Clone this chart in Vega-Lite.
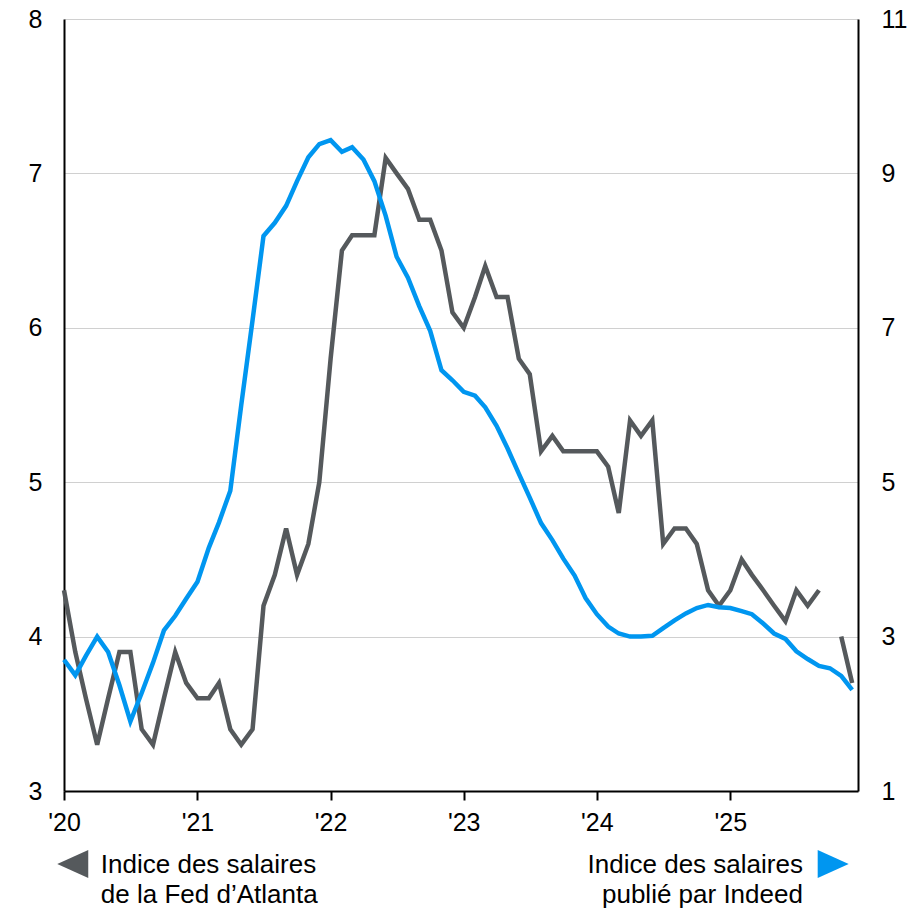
{
  "$schema": "https://vega.github.io/schema/vega-lite/v6.json",
  "width": 794,
  "height": 772,
  "autosize": {"type": "none"},
  "padding": {"left": 64, "top": 19, "right": 62, "bottom": 118},
  "background": "white",
  "config": {
    "font": "Liberation Sans",
    "view": {"stroke": null},
    "axis": {"labelFont": "Liberation Sans", "labelFontSize": 25, "labelColor": "black", "domainColor": "black", "domainWidth": 2, "tickColor": "black", "tickWidth": 2, "title": null}
  },
  "datasets": {
    "wages": [
      {"date": "2020-01-01", "atlanta": 4.3, "indeed": 2.7},
      {"date": "2020-02-01", "atlanta": 3.9, "indeed": 2.5},
      {"date": "2020-03-01", "atlanta": 3.6, "indeed": 2.75},
      {"date": "2020-04-01", "atlanta": 3.3, "indeed": 3.0},
      {"date": "2020-05-01", "atlanta": 3.6, "indeed": 2.8},
      {"date": "2020-06-01", "atlanta": 3.9, "indeed": 2.37},
      {"date": "2020-07-01", "atlanta": 3.9, "indeed": 1.9},
      {"date": "2020-08-01", "atlanta": 3.4, "indeed": 2.27},
      {"date": "2020-09-01", "atlanta": 3.3, "indeed": 2.66},
      {"date": "2020-10-01", "atlanta": 3.6, "indeed": 3.08},
      {"date": "2020-11-01", "atlanta": 3.9, "indeed": 3.27},
      {"date": "2020-12-01", "atlanta": 3.7, "indeed": 3.49},
      {"date": "2021-01-01", "atlanta": 3.6, "indeed": 3.71},
      {"date": "2021-02-01", "atlanta": 3.6, "indeed": 4.15},
      {"date": "2021-03-01", "atlanta": 3.7, "indeed": 4.48},
      {"date": "2021-04-01", "atlanta": 3.4, "indeed": 4.89},
      {"date": "2021-05-01", "atlanta": 3.3, "indeed": 6.0},
      {"date": "2021-06-01", "atlanta": 3.4, "indeed": 7.1},
      {"date": "2021-07-01", "atlanta": 4.2, "indeed": 8.19},
      {"date": "2021-08-01", "atlanta": 4.4, "indeed": 8.36},
      {"date": "2021-09-01", "atlanta": 4.7, "indeed": 8.58},
      {"date": "2021-10-01", "atlanta": 4.4, "indeed": 8.9},
      {"date": "2021-11-01", "atlanta": 4.6, "indeed": 9.21},
      {"date": "2021-12-01", "atlanta": 5.0, "indeed": 9.38},
      {"date": "2022-01-01", "atlanta": 5.8, "indeed": 9.43},
      {"date": "2022-02-01", "atlanta": 6.5, "indeed": 9.28},
      {"date": "2022-03-01", "atlanta": 6.6, "indeed": 9.34},
      {"date": "2022-04-01", "atlanta": 6.6, "indeed": 9.18},
      {"date": "2022-05-01", "atlanta": 6.6, "indeed": 8.9},
      {"date": "2022-06-01", "atlanta": 7.1, "indeed": 8.45},
      {"date": "2022-07-01", "atlanta": 7.0, "indeed": 7.92},
      {"date": "2022-08-01", "atlanta": 6.9, "indeed": 7.65},
      {"date": "2022-09-01", "atlanta": 6.7, "indeed": 7.28},
      {"date": "2022-10-01", "atlanta": 6.7, "indeed": 6.96},
      {"date": "2022-11-01", "atlanta": 6.5, "indeed": 6.45},
      {"date": "2022-12-01", "atlanta": 6.1, "indeed": 6.32},
      {"date": "2023-01-01", "atlanta": 6.0, "indeed": 6.17},
      {"date": "2023-02-01", "atlanta": 6.2, "indeed": 6.12},
      {"date": "2023-03-01", "atlanta": 6.4, "indeed": 5.97},
      {"date": "2023-04-01", "atlanta": 6.2, "indeed": 5.73},
      {"date": "2023-05-01", "atlanta": 6.2, "indeed": 5.44},
      {"date": "2023-06-01", "atlanta": 5.8, "indeed": 5.11},
      {"date": "2023-07-01", "atlanta": 5.7, "indeed": 4.8},
      {"date": "2023-08-01", "atlanta": 5.2, "indeed": 4.47},
      {"date": "2023-09-01", "atlanta": 5.3, "indeed": 4.25},
      {"date": "2023-10-01", "atlanta": 5.2, "indeed": 4.01},
      {"date": "2023-11-01", "atlanta": 5.2, "indeed": 3.79},
      {"date": "2023-12-01", "atlanta": 5.2, "indeed": 3.5},
      {"date": "2024-01-01", "atlanta": 5.2, "indeed": 3.29},
      {"date": "2024-02-01", "atlanta": 5.1, "indeed": 3.13},
      {"date": "2024-03-01", "atlanta": 4.8, "indeed": 3.04},
      {"date": "2024-04-01", "atlanta": 5.4, "indeed": 3.0},
      {"date": "2024-05-01", "atlanta": 5.3, "indeed": 3.0},
      {"date": "2024-06-01", "atlanta": 5.4, "indeed": 3.01},
      {"date": "2024-07-01", "atlanta": 4.6, "indeed": 3.11},
      {"date": "2024-08-01", "atlanta": 4.7, "indeed": 3.21},
      {"date": "2024-09-01", "atlanta": 4.7, "indeed": 3.3},
      {"date": "2024-10-01", "atlanta": 4.6, "indeed": 3.37},
      {"date": "2024-11-01", "atlanta": 4.3, "indeed": 3.41},
      {"date": "2024-12-01", "atlanta": 4.2, "indeed": 3.38},
      {"date": "2025-01-01", "atlanta": 4.3, "indeed": 3.37},
      {"date": "2025-02-01", "atlanta": 4.5, "indeed": 3.33},
      {"date": "2025-03-01", "atlanta": 4.4, "indeed": 3.29},
      {"date": "2025-04-01", "atlanta": 4.3, "indeed": 3.17},
      {"date": "2025-05-01", "atlanta": 4.2, "indeed": 3.04},
      {"date": "2025-06-01", "atlanta": 4.1, "indeed": 2.97},
      {"date": "2025-07-01", "atlanta": 4.3, "indeed": 2.81},
      {"date": "2025-08-01", "atlanta": 4.2, "indeed": 2.71},
      {"date": "2025-09-01", "atlanta": 4.3, "indeed": 2.62},
      {"date": "2025-10-01", "atlanta": null, "indeed": 2.59},
      {"date": "2025-11-01", "atlanta": 4.0, "indeed": 2.49},
      {"date": "2025-12-01", "atlanta": 3.7, "indeed": 2.31}
    ]
  },
  "data": {"name": "wages"},
  "encoding": {
    "x": {
      "field": "date",
      "type": "temporal",
      "scale": {"type": "utc", "domain": [{"year": 2020, "month": 1, "date": 1, "utc": true}, {"year": 2025, "month": 12, "date": 17, "utc": true}]},
      "axis": {"tickCount": {"interval": "year", "step": 1}, "labelExpr": "\"'\" + utcFormat(datum.value, '%y')", "grid": false, "ticks": true, "tickSize": 9, "labelPadding": 10, "labelAngle": 0, "labelAlign": "center", "labelFlush": false, "labelOverlap": false, "title": null}
    }
  },
  "layer": [
    {
      "layer": [
        {
          "mark": {"type": "line", "color": "#55595c", "strokeWidth": 4.5, "strokeJoin": "miter", "invalid": "break-paths-show-domains"},
          "encoding": {
            "y": {
              "field": "atlanta",
              "type": "quantitative",
              "scale": {"domain": [3, 8], "nice": false, "zero": false},
              "axis": {"orient": "left", "values": [3, 4, 5, 6, 7, 8], "ticks": false, "labelPadding": 22, "grid": true, "gridColor": "#d0d0d0", "gridWidth": 1, "labelFlush": false, "labelOverlap": false, "title": null}
            }
          }
        },
        {
          "data": {"values": [{"date": "2020-01-25", "v": 2.527}]},
          "mark": {"type": "point", "filled": true, "opacity": 1, "shape": "M-1,0L1,-0.9L1,0.9Z", "size": 961, "color": "#55595c", "strokeWidth": 0},
          "encoding": {"y": {"field": "v", "type": "quantitative", "axis": {"orient": "left", "values": [3, 4, 5, 6, 7, 8], "ticks": false, "labelPadding": 22, "grid": true, "gridColor": "#d0d0d0", "gridWidth": 1, "labelFlush": false, "labelOverlap": false, "title": null}}}
        },
        {
          "data": {"values": [{"date": "2020-04-11", "v": 2.521, "label": "Indice des salaires\nde la Fed d’Atlanta"}]},
          "mark": {"type": "text", "align": "left", "baseline": "middle", "fontSize": 26, "lineHeight": 30, "lineBreak": "\n", "color": "black", "font": "Liberation Sans"},
          "encoding": {"y": {"field": "v", "type": "quantitative", "axis": {"orient": "left", "values": [3, 4, 5, 6, 7, 8], "ticks": false, "labelPadding": 22, "grid": true, "gridColor": "#d0d0d0", "gridWidth": 1, "labelFlush": false, "labelOverlap": false, "title": null}}, "text": {"field": "label"}}
        },
        {
          "data": {"values": [{"date": "2025-07-19", "v": 2.521, "label": "Indice des salaires\npublié par Indeed"}]},
          "mark": {"type": "text", "align": "right", "baseline": "middle", "fontSize": 26, "lineHeight": 30, "lineBreak": "\n", "color": "black", "font": "Liberation Sans"},
          "encoding": {"y": {"field": "v", "type": "quantitative", "axis": {"orient": "left", "values": [3, 4, 5, 6, 7, 8], "ticks": false, "labelPadding": 22, "grid": true, "gridColor": "#d0d0d0", "gridWidth": 1, "labelFlush": false, "labelOverlap": false, "title": null}}, "text": {"field": "label"}}
        },
        {
          "data": {"values": [{"date": "2025-10-10", "v": 2.527}]},
          "mark": {"type": "point", "filled": true, "opacity": 1, "shape": "M1,0L-1,-0.9L-1,0.9Z", "size": 961, "color": "#0096f0", "strokeWidth": 0},
          "encoding": {"y": {"field": "v", "type": "quantitative", "axis": {"orient": "left", "values": [3, 4, 5, 6, 7, 8], "ticks": false, "labelPadding": 22, "grid": true, "gridColor": "#d0d0d0", "gridWidth": 1, "labelFlush": false, "labelOverlap": false, "title": null}}}
        }
      ]
    },
    {
      "mark": {"type": "line", "color": "#0096f0", "strokeWidth": 4.5},
      "encoding": {
        "y": {
          "field": "indeed",
          "type": "quantitative",
          "scale": {"domain": [1, 11], "nice": false, "zero": false},
          "axis": {"orient": "right", "values": [1, 3, 5, 7, 9, 11], "ticks": false, "labelPadding": 23, "grid": false, "labelFlush": false, "labelOverlap": false, "title": null}
        }
      }
    }
  ],
  "resolve": {"scale": {"y": "independent"}}
}
